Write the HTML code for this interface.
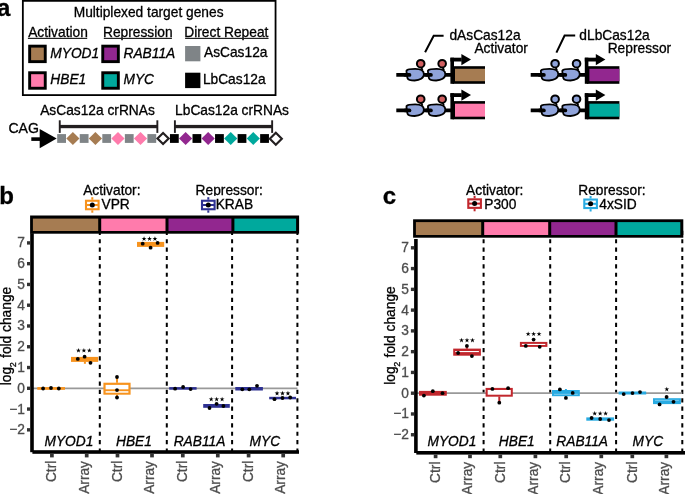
<!DOCTYPE html>
<html><head><meta charset="utf-8"><style>
html,body{margin:0;padding:0;background:#fff;}
body{width:685px;height:494px;overflow:hidden;}
svg{display:block;will-change:transform;font-family:"Liberation Sans", sans-serif;}
</style></head><body>
<svg width="685" height="494" viewBox="0 0 685 494">
<rect width="685" height="494" fill="#fff"/>
<text x="-2.98" y="15.9" font-size="24" font-weight="bold" fill="#000" stroke="#000" stroke-width="0.3">a</text>
<rect x="22.85" y="0.85" width="252.7" height="94.25" fill="none" stroke="#000" stroke-width="1.8"/>
<text x="73.7" y="16.9" font-size="13.75" fill="#000" stroke="#000" stroke-width="0.3">Multiplexed target genes</text>
<text x="28.2" y="36.7" font-size="13.75" fill="#000" stroke="#000" stroke-width="0.3">Activation</text>
<rect x="27.9" y="37.8" width="59.31" height="1.2" fill="#222"/>
<text x="103" y="36.7" font-size="13.75" fill="#000" stroke="#000" stroke-width="0.3">Repression</text>
<rect x="103.8" y="37.8" width="68.11" height="1.2" fill="#222"/>
<text x="184.3" y="36.7" font-size="13.75" fill="#000" stroke="#000" stroke-width="0.3">Direct Repeat</text>
<rect x="185.1" y="37.8" width="83.44" height="1.2" fill="#222"/>
<rect x="29.65" y="46.15" width="15.6" height="15.5" fill="#A67C52" stroke="#000" stroke-width="2.9"/>
<rect x="29.65" y="72.75" width="15.6" height="15.5" fill="#FF7BAC" stroke="#000" stroke-width="2.9"/>
<rect x="102.75" y="46.15" width="15.6" height="15.5" fill="#92278F" stroke="#000" stroke-width="2.9"/>
<rect x="102.75" y="72.75" width="15.6" height="15.5" fill="#00A99D" stroke="#000" stroke-width="2.9"/>
<rect x="185.1" y="46" width="15.3" height="15.3" fill="#7F8487"/>
<rect x="185.1" y="72.7" width="15.3" height="15.4" fill="#000"/>
<text x="50.29" y="57.6" font-size="13.75" font-style="italic" fill="#000" stroke="#000" stroke-width="0.3">MYOD1</text>
<text x="50.29" y="83.8" font-size="13.75" font-style="italic" fill="#000" stroke="#000" stroke-width="0.3">HBE1</text>
<text x="123.49" y="57.6" font-size="13.75" font-style="italic" fill="#000" stroke="#000" stroke-width="0.3">RAB11A</text>
<text x="123.49" y="83.8" font-size="13.75" font-style="italic" fill="#000" stroke="#000" stroke-width="0.3">MYC</text>
<text x="204" y="57.4" font-size="13.75" fill="#000" stroke="#000" stroke-width="0.3">AsCas12a</text>
<text x="202.9" y="83.8" font-size="13.75" fill="#000" stroke="#000" stroke-width="0.3">LbCas12a</text>
<text x="40.2" y="114.8" font-size="13.75" fill="#000" stroke="#000" stroke-width="0.3">AsCas12a crRNAs</text>
<text x="175.1" y="114.8" font-size="13.75" fill="#000" stroke="#000" stroke-width="0.3">LbCas12a crRNAs</text>
<text x="8.39" y="133.1" font-size="14.1" fill="#000" stroke="#000" stroke-width="0.3">CAG</text>
<rect x="31.3" y="137.3" width="10.7" height="3.6" fill="#000"/>
<path d="M39.7,128.9 L56.7,138.6 L39.7,148.3 Z" fill="#000"/>
<rect x="58.8" y="120.3" width="1.9" height="12.6" fill="#231F20"/>
<rect x="156.4" y="120.3" width="1.9" height="12.6" fill="#231F20"/>
<rect x="59.75" y="124.9" width="97.6" height="3.3" fill="#231F20"/>
<rect x="173.95" y="120.3" width="1.9" height="12.6" fill="#231F20"/>
<rect x="271.2" y="120.3" width="1.9" height="12.6" fill="#231F20"/>
<rect x="174.9" y="124.9" width="97.25" height="3.3" fill="#231F20"/>
<rect x="57.2" y="134.1" width="8.8" height="8.8" fill="#7F8487"/>
<path d="M72.87,131.9 L79.47,138.5 L72.87,145.1 L66.27,138.5 Z" fill="#A67C52"/>
<rect x="79.75" y="134.1" width="8.8" height="8.8" fill="#7F8487"/>
<path d="M95.42,131.9 L102.02,138.5 L95.42,145.1 L88.82,138.5 Z" fill="#A67C52"/>
<rect x="102.3" y="134.1" width="8.8" height="8.8" fill="#7F8487"/>
<path d="M117.97,131.9 L124.57,138.5 L117.97,145.1 L111.37,138.5 Z" fill="#FF7BAC"/>
<rect x="124.85" y="134.1" width="8.8" height="8.8" fill="#7F8487"/>
<path d="M140.52,131.9 L147.12,138.5 L140.52,145.1 L133.92,138.5 Z" fill="#FF7BAC"/>
<rect x="147.4" y="134.1" width="8.8" height="8.8" fill="#7F8487"/>
<path d="M163.07,132.9 L168.67,138.5 L163.07,144.1 L157.47,138.5 Z" fill="#fff" stroke="#231F20" stroke-width="2.15"/>
<rect x="169.95" y="134.1" width="8.8" height="8.8" fill="#000"/>
<path d="M185.62,131.9 L192.22,138.5 L185.62,145.1 L179.02,138.5 Z" fill="#92278F"/>
<rect x="192.5" y="134.1" width="8.8" height="8.8" fill="#000"/>
<path d="M208.17,131.9 L214.77,138.5 L208.17,145.1 L201.57,138.5 Z" fill="#92278F"/>
<rect x="215.05" y="134.1" width="8.8" height="8.8" fill="#000"/>
<path d="M230.72,131.9 L237.32,138.5 L230.72,145.1 L224.12,138.5 Z" fill="#00A99D"/>
<rect x="237.6" y="134.1" width="8.8" height="8.8" fill="#000"/>
<path d="M253.27,131.9 L259.87,138.5 L253.27,145.1 L246.67,138.5 Z" fill="#00A99D"/>
<rect x="260.15" y="134.1" width="8.8" height="8.8" fill="#000"/>
<path d="M275.82,132.8 L281.82,138.8 L275.82,144.8 L269.82,138.8 Z" fill="#fff" stroke="#231F20" stroke-width="2.15"/>
<line x1="396.3" y1="74.9" x2="452.3" y2="74.9" stroke="#000" stroke-width="3.8"/>
<path d="M406.5,70.6 C407.7,69.2 411.2,68.95 415.2,68.95 C420.7,68.95 423.9,70.5 423.9,74.3 C423.9,78.2 419.7,80.5 414.7,80.5 C410.7,80.5 408.2,79.8 407.6,78.3 C407.1,77.2 407.2,76.4 407.3,75.9 C407,73.9 406.2,71.9 406.5,70.6 Z" fill="#8FA3DA" stroke="#000" stroke-width="1.8"/>
<line x1="405.2" y1="74.9" x2="409.5" y2="74.9" stroke="#000" stroke-width="3.7" stroke-linecap="round"/>
<line x1="421.3" y1="67.3" x2="422.5" y2="70.1" stroke="#000" stroke-width="1.8"/>
<circle cx="420.7" cy="63.7" r="3.8" fill="#D05F60" stroke="#000" stroke-width="2"/>
<path d="M427.95,70.6 C429.15,69.2 432.65,68.95 436.65,68.95 C442.15,68.95 445.35,70.5 445.35,74.3 C445.35,78.2 441.15,80.5 436.15,80.5 C432.15,80.5 429.65,79.8 429.05,78.3 C428.55,77.2 428.65,76.4 428.75,75.9 C428.45,73.9 427.65,71.9 427.95,70.6 Z" fill="#8FA3DA" stroke="#000" stroke-width="1.8"/>
<line x1="426.65" y1="74.9" x2="430.95" y2="74.9" stroke="#000" stroke-width="3.7" stroke-linecap="round"/>
<line x1="442.75" y1="67.3" x2="443.95" y2="70.1" stroke="#000" stroke-width="1.8"/>
<circle cx="442.15" cy="63.7" r="3.8" fill="#D05F60" stroke="#000" stroke-width="2"/>
<rect x="452.5" y="66.2" width="32.5" height="17.6" fill="#000"/>
<rect x="455" y="68.8" width="30" height="12.4" fill="#A67C52"/>
<rect x="450.4" y="57.7" width="3.6" height="26.1" fill="#000"/>
<rect x="450.4" y="57.7" width="11.3" height="3.8" fill="#000"/>
<path d="M461.4,54 L471,59.6 L461.4,65.2 Z" fill="#000"/>
<line x1="396.3" y1="110.4" x2="452.3" y2="110.4" stroke="#000" stroke-width="3.8"/>
<path d="M406.5,106.1 C407.7,104.7 411.2,104.45 415.2,104.45 C420.7,104.45 423.9,106 423.9,109.8 C423.9,113.7 419.7,116 414.7,116 C410.7,116 408.2,115.3 407.6,113.8 C407.1,112.7 407.2,111.9 407.3,111.4 C407,109.4 406.2,107.4 406.5,106.1 Z" fill="#8FA3DA" stroke="#000" stroke-width="1.8"/>
<line x1="405.2" y1="110.4" x2="409.5" y2="110.4" stroke="#000" stroke-width="3.7" stroke-linecap="round"/>
<line x1="421.3" y1="102.8" x2="422.5" y2="105.6" stroke="#000" stroke-width="1.8"/>
<circle cx="420.7" cy="99.2" r="3.8" fill="#D05F60" stroke="#000" stroke-width="2"/>
<path d="M427.95,106.1 C429.15,104.7 432.65,104.45 436.65,104.45 C442.15,104.45 445.35,106 445.35,109.8 C445.35,113.7 441.15,116 436.15,116 C432.15,116 429.65,115.3 429.05,113.8 C428.55,112.7 428.65,111.9 428.75,111.4 C428.45,109.4 427.65,107.4 427.95,106.1 Z" fill="#8FA3DA" stroke="#000" stroke-width="1.8"/>
<line x1="426.65" y1="110.4" x2="430.95" y2="110.4" stroke="#000" stroke-width="3.7" stroke-linecap="round"/>
<line x1="442.75" y1="102.8" x2="443.95" y2="105.6" stroke="#000" stroke-width="1.8"/>
<circle cx="442.15" cy="99.2" r="3.8" fill="#D05F60" stroke="#000" stroke-width="2"/>
<rect x="452.5" y="101.1" width="32.5" height="18.2" fill="#000"/>
<rect x="455" y="103.7" width="30" height="13" fill="#FF7BAC"/>
<rect x="450.4" y="93.2" width="3.6" height="26.1" fill="#000"/>
<rect x="450.4" y="93.2" width="11.3" height="3.8" fill="#000"/>
<path d="M461.4,89.5 L471,95.1 L461.4,100.7 Z" fill="#000"/>
<line x1="530.7" y1="74.9" x2="586.7" y2="74.9" stroke="#000" stroke-width="3.8"/>
<path d="M540.9,70.6 C542.1,69.2 545.6,68.95 549.6,68.95 C555.1,68.95 558.3,70.5 558.3,74.3 C558.3,78.2 554.1,80.5 549.1,80.5 C545.1,80.5 542.6,79.8 542,78.3 C541.5,77.2 541.6,76.4 541.7,75.9 C541.4,73.9 540.6,71.9 540.9,70.6 Z" fill="#8FA3DA" stroke="#000" stroke-width="1.8"/>
<line x1="539.6" y1="74.9" x2="543.9" y2="74.9" stroke="#000" stroke-width="3.7" stroke-linecap="round"/>
<line x1="555.7" y1="67.3" x2="556.9" y2="70.1" stroke="#000" stroke-width="1.8"/>
<circle cx="555.1" cy="63.7" r="3.8" fill="#8FA3DA" stroke="#000" stroke-width="2"/>
<path d="M562.35,70.6 C563.55,69.2 567.05,68.95 571.05,68.95 C576.55,68.95 579.75,70.5 579.75,74.3 C579.75,78.2 575.55,80.5 570.55,80.5 C566.55,80.5 564.05,79.8 563.45,78.3 C562.95,77.2 563.05,76.4 563.15,75.9 C562.85,73.9 562.05,71.9 562.35,70.6 Z" fill="#8FA3DA" stroke="#000" stroke-width="1.8"/>
<line x1="561.05" y1="74.9" x2="565.35" y2="74.9" stroke="#000" stroke-width="3.7" stroke-linecap="round"/>
<line x1="577.15" y1="67.3" x2="578.35" y2="70.1" stroke="#000" stroke-width="1.8"/>
<circle cx="576.55" cy="63.7" r="3.8" fill="#8FA3DA" stroke="#000" stroke-width="2"/>
<rect x="586.9" y="66.2" width="32.5" height="17.6" fill="#000"/>
<rect x="589.4" y="68.8" width="30" height="12.4" fill="#92278F"/>
<rect x="584.8" y="57.7" width="3.6" height="26.1" fill="#000"/>
<rect x="584.8" y="57.7" width="11.3" height="3.8" fill="#000"/>
<path d="M595.8,54 L605.4,59.6 L595.8,65.2 Z" fill="#000"/>
<line x1="530.7" y1="110.4" x2="586.7" y2="110.4" stroke="#000" stroke-width="3.8"/>
<path d="M540.9,106.1 C542.1,104.7 545.6,104.45 549.6,104.45 C555.1,104.45 558.3,106 558.3,109.8 C558.3,113.7 554.1,116 549.1,116 C545.1,116 542.6,115.3 542,113.8 C541.5,112.7 541.6,111.9 541.7,111.4 C541.4,109.4 540.6,107.4 540.9,106.1 Z" fill="#8FA3DA" stroke="#000" stroke-width="1.8"/>
<line x1="539.6" y1="110.4" x2="543.9" y2="110.4" stroke="#000" stroke-width="3.7" stroke-linecap="round"/>
<line x1="555.7" y1="102.8" x2="556.9" y2="105.6" stroke="#000" stroke-width="1.8"/>
<circle cx="555.1" cy="99.2" r="3.8" fill="#8FA3DA" stroke="#000" stroke-width="2"/>
<path d="M562.35,106.1 C563.55,104.7 567.05,104.45 571.05,104.45 C576.55,104.45 579.75,106 579.75,109.8 C579.75,113.7 575.55,116 570.55,116 C566.55,116 564.05,115.3 563.45,113.8 C562.95,112.7 563.05,111.9 563.15,111.4 C562.85,109.4 562.05,107.4 562.35,106.1 Z" fill="#8FA3DA" stroke="#000" stroke-width="1.8"/>
<line x1="561.05" y1="110.4" x2="565.35" y2="110.4" stroke="#000" stroke-width="3.7" stroke-linecap="round"/>
<line x1="577.15" y1="102.8" x2="578.35" y2="105.6" stroke="#000" stroke-width="1.8"/>
<circle cx="576.55" cy="99.2" r="3.8" fill="#8FA3DA" stroke="#000" stroke-width="2"/>
<rect x="586.9" y="101.1" width="32.5" height="18.2" fill="#000"/>
<rect x="589.4" y="103.7" width="30" height="13" fill="#00A99D"/>
<rect x="584.8" y="93.2" width="3.6" height="26.1" fill="#000"/>
<rect x="584.8" y="93.2" width="11.3" height="3.8" fill="#000"/>
<path d="M595.8,89.5 L605.4,95.1 L595.8,100.7 Z" fill="#000"/>
<path d="M425.1,52.2 L433.7,35.8 L443.6,35.8" fill="none" stroke="#000" stroke-width="2"/>
<path d="M556.4,52.6 L564.6,35.6 L575.2,35.6" fill="none" stroke="#000" stroke-width="2"/>
<text x="449.45" y="39.5" font-size="13.75" fill="#000" stroke="#000" stroke-width="0.3">dAsCas12a</text>
<text x="474.4" y="52.8" font-size="13.75" fill="#000" stroke="#000" stroke-width="0.3">Activator</text>
<text x="579.35" y="39.5" font-size="13.75" fill="#000" stroke="#000" stroke-width="0.3">dLbCas12a</text>
<text x="607.7" y="52.8" font-size="13.75" fill="#000" stroke="#000" stroke-width="0.3">Repressor</text>
<text x="-0.66" y="203.5" font-size="24" font-weight="bold" fill="#000" stroke="#000" stroke-width="0.3">b</text>
<text x="382.84" y="203.8" font-size="24" font-weight="bold" fill="#000" stroke="#000" stroke-width="0.3">c</text>
<line x1="99.8" y1="452.6" x2="99.8" y2="230.6" stroke="#000" stroke-width="2" stroke-dasharray="4.2 4.17"/>
<line x1="166.8" y1="452.6" x2="166.8" y2="230.6" stroke="#000" stroke-width="2" stroke-dasharray="4.2 4.17"/>
<line x1="232.1" y1="452.6" x2="232.1" y2="230.6" stroke="#000" stroke-width="2" stroke-dasharray="4.2 4.17"/>
<line x1="297.4" y1="452.6" x2="297.4" y2="230.6" stroke="#000" stroke-width="2" stroke-dasharray="4.2 4.17"/>
<line x1="32" y1="388.3" x2="297.4" y2="388.3" stroke="#999999" stroke-width="1.7"/>
<rect x="37.3" y="387.1" width="27.7" height="2.7" fill="#F7931E"/>
<circle cx="43.1" cy="388.5" r="1.9" fill="#000"/>
<circle cx="51" cy="388" r="1.9" fill="#000"/>
<circle cx="58.8" cy="388.5" r="1.9" fill="#000"/>
<line x1="84.9" y1="361.5" x2="84.9" y2="363.8" stroke="#F7931E" stroke-width="2"/>
<rect x="71" y="356.9" width="27.2" height="5" fill="#F7931E"/>
<circle cx="77.8" cy="358.9" r="1.9" fill="#000"/>
<circle cx="84.6" cy="356.7" r="1.9" fill="#000"/>
<circle cx="90.5" cy="362.8" r="1.9" fill="#000"/>
<line x1="117" y1="377" x2="117" y2="382.8" stroke="#F7931E" stroke-width="2"/>
<line x1="117" y1="394.6" x2="117" y2="397.5" stroke="#F7931E" stroke-width="2"/>
<rect x="103.4" y="382.7" width="27.2" height="12" fill="#F7931E"/>
<rect x="105.6" y="384.9" width="22.8" height="4.4" fill="#fff"/>
<rect x="105.6" y="391.2" width="22.8" height="1.5" fill="#fff"/>
<circle cx="117" cy="377" r="1.9" fill="#000"/>
<circle cx="117" cy="390.1" r="1.9" fill="#000"/>
<circle cx="117" cy="397.5" r="1.9" fill="#000"/>
<rect x="137" y="241.9" width="27.2" height="5" fill="#F7931E"/>
<circle cx="142.7" cy="243.7" r="1.9" fill="#000"/>
<circle cx="150.6" cy="247.7" r="1.9" fill="#000"/>
<circle cx="157.6" cy="242.9" r="1.9" fill="#000"/>
<rect x="169.2" y="387.1" width="27.4" height="2.6" fill="#2E3192"/>
<circle cx="175.1" cy="388.7" r="1.9" fill="#000"/>
<circle cx="183.1" cy="387" r="1.9" fill="#000"/>
<circle cx="190.6" cy="389.1" r="1.9" fill="#000"/>
<rect x="203.2" y="404" width="26.6" height="3.8" fill="#2E3192"/>
<circle cx="209.5" cy="408" r="1.9" fill="#000"/>
<circle cx="216.6" cy="403.8" r="1.9" fill="#000"/>
<circle cx="223.4" cy="406" r="1.9" fill="#000"/>
<rect x="235.3" y="387" width="27.6" height="3.5" fill="#2E3192"/>
<circle cx="242.3" cy="389.3" r="1.9" fill="#000"/>
<circle cx="249.3" cy="389.3" r="1.9" fill="#000"/>
<circle cx="257" cy="385.8" r="1.9" fill="#000"/>
<rect x="269.2" y="396.8" width="26.8" height="2.5" fill="#2E3192"/>
<circle cx="274.5" cy="399.2" r="1.9" fill="#000"/>
<circle cx="282.5" cy="398" r="1.9" fill="#000"/>
<circle cx="290.2" cy="397.5" r="1.9" fill="#000"/>
<polygon points="78.45,347.9 79.04,349.69 80.92,349.7 79.4,350.81 79.98,352.6 78.45,351.5 76.92,352.6 77.5,350.81 75.98,349.7 77.86,349.69" fill="#000"/>
<polygon points="83.9,347.9 84.49,349.69 86.37,349.7 84.85,350.81 85.43,352.6 83.9,351.5 82.37,352.6 82.95,350.81 81.43,349.7 83.31,349.69" fill="#000"/>
<polygon points="89.35,347.9 89.94,349.69 91.82,349.7 90.3,350.81 90.88,352.6 89.35,351.5 87.82,352.6 88.4,350.81 86.88,349.7 88.76,349.69" fill="#000"/>
<polygon points="144.05,236.2 144.64,237.99 146.52,238 145,239.11 145.58,240.9 144.05,239.8 142.52,240.9 143.1,239.11 141.58,238 143.46,237.99" fill="#000"/>
<polygon points="149.5,236.2 150.09,237.99 151.97,238 150.45,239.11 151.03,240.9 149.5,239.8 147.97,240.9 148.55,239.11 147.03,238 148.91,237.99" fill="#000"/>
<polygon points="154.95,236.2 155.54,237.99 157.42,238 155.9,239.11 156.48,240.9 154.95,239.8 153.42,240.9 154,239.11 152.48,238 154.36,237.99" fill="#000"/>
<polygon points="211.2,396.7 211.79,398.49 213.67,398.5 212.15,399.61 212.73,401.4 211.2,400.3 209.67,401.4 210.25,399.61 208.73,398.5 210.61,398.49" fill="#000"/>
<polygon points="216.65,396.7 217.24,398.49 219.12,398.5 217.6,399.61 218.18,401.4 216.65,400.3 215.12,401.4 215.7,399.61 214.18,398.5 216.06,398.49" fill="#000"/>
<polygon points="222.1,396.7 222.69,398.49 224.57,398.5 223.05,399.61 223.63,401.4 222.1,400.3 220.57,401.4 221.15,399.61 219.63,398.5 221.51,398.49" fill="#000"/>
<polygon points="277.05,390.8 277.64,392.59 279.52,392.6 278,393.71 278.58,395.5 277.05,394.4 275.52,395.5 276.1,393.71 274.58,392.6 276.46,392.59" fill="#000"/>
<polygon points="282.5,390.8 283.09,392.59 284.97,392.6 283.45,393.71 284.03,395.5 282.5,394.4 280.97,395.5 281.55,393.71 280.03,392.6 281.91,392.59" fill="#000"/>
<polygon points="287.95,390.8 288.54,392.59 290.42,392.6 288.9,393.71 289.48,395.5 287.95,394.4 286.42,395.5 287,393.71 285.48,392.6 287.36,392.59" fill="#000"/>
<rect x="30.1" y="215.5" width="269" height="18.2" fill="#000"/>
<rect x="32.9" y="218.6" width="65.3" height="12.4" fill="#A67C52"/>
<rect x="101.2" y="218.6" width="64.3" height="12.4" fill="#FF7BAC"/>
<rect x="168.5" y="218.6" width="62.9" height="12.4" fill="#92278F"/>
<rect x="234.4" y="218.6" width="61.7" height="12.4" fill="#00A99D"/>
<rect x="30.2" y="233.2" width="3.6" height="219" fill="#000"/>
<rect x="32.4" y="450.2" width="266.6" height="3.6" fill="#000"/>
<rect x="27" y="428.14" width="3.2" height="3.4" fill="#333333"/>
<text x="25" y="434.34" font-size="13.75" fill="#4D4D4D" stroke="#4D4D4D" stroke-width="0.3" text-anchor="end">−2</text>
<rect x="27" y="407.37" width="3.2" height="3.4" fill="#333333"/>
<text x="25" y="413.57" font-size="13.75" fill="#4D4D4D" stroke="#4D4D4D" stroke-width="0.3" text-anchor="end">−1</text>
<rect x="27" y="386.6" width="3.2" height="3.4" fill="#333333"/>
<text x="25" y="392.8" font-size="13.75" fill="#4D4D4D" stroke="#4D4D4D" stroke-width="0.3" text-anchor="end">0</text>
<rect x="27" y="365.83" width="3.2" height="3.4" fill="#333333"/>
<text x="25" y="372.03" font-size="13.75" fill="#4D4D4D" stroke="#4D4D4D" stroke-width="0.3" text-anchor="end">1</text>
<rect x="27" y="345.06" width="3.2" height="3.4" fill="#333333"/>
<text x="25" y="351.26" font-size="13.75" fill="#4D4D4D" stroke="#4D4D4D" stroke-width="0.3" text-anchor="end">2</text>
<rect x="27" y="324.29" width="3.2" height="3.4" fill="#333333"/>
<text x="25" y="330.49" font-size="13.75" fill="#4D4D4D" stroke="#4D4D4D" stroke-width="0.3" text-anchor="end">3</text>
<rect x="27" y="303.52" width="3.2" height="3.4" fill="#333333"/>
<text x="25" y="309.72" font-size="13.75" fill="#4D4D4D" stroke="#4D4D4D" stroke-width="0.3" text-anchor="end">4</text>
<rect x="27" y="282.75" width="3.2" height="3.4" fill="#333333"/>
<text x="25" y="288.95" font-size="13.75" fill="#4D4D4D" stroke="#4D4D4D" stroke-width="0.3" text-anchor="end">5</text>
<rect x="27" y="261.98" width="3.2" height="3.4" fill="#333333"/>
<text x="25" y="268.18" font-size="13.75" fill="#4D4D4D" stroke="#4D4D4D" stroke-width="0.3" text-anchor="end">6</text>
<rect x="27" y="241.21" width="3.2" height="3.4" fill="#333333"/>
<text x="25" y="247.41" font-size="13.75" fill="#4D4D4D" stroke="#4D4D4D" stroke-width="0.3" text-anchor="end">7</text>
<rect x="50.05" y="453.8" width="3.7" height="3.6" fill="#333333"/>
<text transform="translate(56.12,482.09) rotate(-90)" font-size="13.75" fill="#4D4D4D" stroke="#4D4D4D" stroke-width="0.3">Ctrl</text>
<rect x="84.85" y="453.8" width="3.7" height="3.6" fill="#333333"/>
<text transform="translate(88.8,493.86) rotate(-90)" font-size="13.75" fill="#4D4D4D" stroke="#4D4D4D" stroke-width="0.3">Array</text>
<rect x="115.65" y="453.8" width="3.7" height="3.6" fill="#333333"/>
<text transform="translate(121.72,482.09) rotate(-90)" font-size="13.75" fill="#4D4D4D" stroke="#4D4D4D" stroke-width="0.3">Ctrl</text>
<rect x="150.15" y="453.8" width="3.7" height="3.6" fill="#333333"/>
<text transform="translate(154.1,493.86) rotate(-90)" font-size="13.75" fill="#4D4D4D" stroke="#4D4D4D" stroke-width="0.3">Array</text>
<rect x="180.95" y="453.8" width="3.7" height="3.6" fill="#333333"/>
<text transform="translate(187.02,482.09) rotate(-90)" font-size="13.75" fill="#4D4D4D" stroke="#4D4D4D" stroke-width="0.3">Ctrl</text>
<rect x="215.95" y="453.8" width="3.7" height="3.6" fill="#333333"/>
<text transform="translate(219.9,493.86) rotate(-90)" font-size="13.75" fill="#4D4D4D" stroke="#4D4D4D" stroke-width="0.3">Array</text>
<rect x="246.75" y="453.8" width="3.7" height="3.6" fill="#333333"/>
<text transform="translate(252.82,482.09) rotate(-90)" font-size="13.75" fill="#4D4D4D" stroke="#4D4D4D" stroke-width="0.3">Ctrl</text>
<rect x="281.35" y="453.8" width="3.7" height="3.6" fill="#333333"/>
<text transform="translate(285.3,493.86) rotate(-90)" font-size="13.75" fill="#4D4D4D" stroke="#4D4D4D" stroke-width="0.3">Array</text>
<text x="44.49" y="445.7" font-size="13.75" font-style="italic" fill="#000" stroke="#000" stroke-width="0.3">MYOD1</text>
<text x="115.99" y="445.7" font-size="13.75" font-style="italic" fill="#000" stroke="#000" stroke-width="0.3">HBE1</text>
<text x="173.69" y="445.7" font-size="13.75" font-style="italic" fill="#000" stroke="#000" stroke-width="0.3">RAB11A</text>
<text x="249.59" y="445.7" font-size="13.75" font-style="italic" fill="#000" stroke="#000" stroke-width="0.3">MYC</text>
<text transform="translate(10.9,385.19) rotate(-90)" font-size="13.75" fill="#000" stroke="#000" stroke-width="0.3">log<tspan font-size="9" dx="-0.5" dy="4.9">2</tspan><tspan dx="0.6" dy="-4.9"> fold change</tspan></text>
<text x="83.2" y="195" font-size="13.75" fill="#000" stroke="#000" stroke-width="0.3">Activator:</text>
<rect x="84.3" y="195.9" width="16" height="17.1" fill="#fff"/>
<rect x="86" y="200.75" width="12.6" height="8.5" fill="#fff" stroke="#F7931E" stroke-width="2.1"/>
<line x1="92.3" y1="197.2" x2="92.3" y2="199.7" stroke="#F7931E" stroke-width="2"/>
<line x1="92.3" y1="210.3" x2="92.3" y2="212.7" stroke="#F7931E" stroke-width="2"/>
<line x1="86" y1="205" x2="98.6" y2="205" stroke="#F7931E" stroke-width="2"/>
<circle cx="92.3" cy="205" r="2.5" fill="#000"/>
<text x="101.53" y="209.3" font-size="13.75" fill="#000" stroke="#000" stroke-width="0.3">VPR</text>
<text x="195.6" y="194.9" font-size="13.75" fill="#000" stroke="#000" stroke-width="0.3">Repressor:</text>
<rect x="200.3" y="195.9" width="16" height="17.1" fill="#fff"/>
<rect x="202" y="200.75" width="12.6" height="8.5" fill="#fff" stroke="#2E3192" stroke-width="2.1"/>
<line x1="208.3" y1="197.2" x2="208.3" y2="199.7" stroke="#2E3192" stroke-width="2"/>
<line x1="208.3" y1="210.3" x2="208.3" y2="212.7" stroke="#2E3192" stroke-width="2"/>
<line x1="202" y1="205" x2="214.6" y2="205" stroke="#2E3192" stroke-width="2"/>
<circle cx="208.3" cy="205" r="2.5" fill="#000"/>
<text x="215.7" y="209.2" font-size="13.75" fill="#000" stroke="#000" stroke-width="0.3">KRAB</text>
<line x1="483.6" y1="452.6" x2="483.6" y2="229.1" stroke="#000" stroke-width="2" stroke-dasharray="4.2 4.17"/>
<line x1="550.2" y1="452.6" x2="550.2" y2="229.1" stroke="#000" stroke-width="2" stroke-dasharray="4.2 4.17"/>
<line x1="616.1" y1="452.6" x2="616.1" y2="229.1" stroke="#000" stroke-width="2" stroke-dasharray="4.2 4.17"/>
<line x1="682.3" y1="452.6" x2="682.3" y2="229.1" stroke="#000" stroke-width="2" stroke-dasharray="4.2 4.17"/>
<line x1="415.9" y1="393.2" x2="682.3" y2="393.2" stroke="#999999" stroke-width="1.7"/>
<rect x="419" y="390.9" width="27.8" height="4.8" fill="#C1272D"/>
<circle cx="423.9" cy="395.6" r="1.9" fill="#000"/>
<circle cx="432.8" cy="391.2" r="1.9" fill="#000"/>
<circle cx="442.5" cy="393.2" r="1.9" fill="#000"/>
<line x1="466.9" y1="345.9" x2="466.9" y2="348.8" stroke="#C1272D" stroke-width="2"/>
<rect x="453.2" y="348.6" width="27.7" height="7.1" fill="#C1272D"/>
<rect x="455.2" y="351" width="23.7" height="1.1" fill="#fff"/>
<circle cx="458.1" cy="353" r="1.9" fill="#000"/>
<circle cx="466.9" cy="345.9" r="1.9" fill="#000"/>
<circle cx="471.9" cy="356.1" r="1.9" fill="#000"/>
<line x1="499.3" y1="396.5" x2="499.3" y2="402.7" stroke="#C1272D" stroke-width="2"/>
<rect x="485.6" y="387.9" width="27.2" height="8.8" fill="#C1272D"/>
<rect x="487.7" y="390" width="23.1" height="4.7" fill="#fff"/>
<circle cx="492.4" cy="388.9" r="1.9" fill="#000"/>
<circle cx="508.1" cy="388.2" r="1.9" fill="#000"/>
<circle cx="499.3" cy="402.7" r="1.9" fill="#000"/>
<rect x="519.9" y="341.9" width="27.5" height="5" fill="#C1272D"/>
<rect x="521.9" y="343.9" width="23.4" height="1.1" fill="#fff"/>
<circle cx="525.8" cy="345.9" r="1.9" fill="#000"/>
<circle cx="533.6" cy="339.6" r="1.9" fill="#000"/>
<circle cx="539.7" cy="346.8" r="1.9" fill="#000"/>
<line x1="565.9" y1="389" x2="565.9" y2="390.2" stroke="#29ABE2" stroke-width="2"/>
<rect x="552" y="390" width="27.8" height="6.2" fill="#29ABE2"/>
<rect x="554" y="393.8" width="23.8" height="1" fill="#7CCBEE"/>
<circle cx="559.9" cy="389.4" r="1.9" fill="#000"/>
<circle cx="565.9" cy="397.9" r="1.9" fill="#000"/>
<circle cx="572.7" cy="392.9" r="1.9" fill="#000"/>
<rect x="586.3" y="417.4" width="27.8" height="3.3" fill="#29ABE2"/>
<circle cx="591.6" cy="418" r="1.9" fill="#000"/>
<circle cx="600.2" cy="419" r="1.9" fill="#000"/>
<circle cx="609" cy="420.1" r="1.9" fill="#000"/>
<rect x="618.6" y="391.5" width="27.6" height="3" fill="#29ABE2"/>
<circle cx="623.7" cy="394.1" r="1.9" fill="#000"/>
<circle cx="632.5" cy="393.1" r="1.9" fill="#000"/>
<circle cx="640" cy="392.1" r="1.9" fill="#000"/>
<rect x="653" y="398.2" width="27.9" height="5.9" fill="#29ABE2"/>
<rect x="655" y="399.8" width="23.9" height="1" fill="#7CCBEE"/>
<circle cx="659.6" cy="404.4" r="1.9" fill="#000"/>
<circle cx="666.6" cy="397" r="1.9" fill="#000"/>
<circle cx="673.5" cy="401.8" r="1.9" fill="#000"/>
<polygon points="461.55,337.7 462.14,339.49 464.02,339.5 462.5,340.61 463.08,342.4 461.55,341.3 460.02,342.4 460.6,340.61 459.08,339.5 460.96,339.49" fill="#000"/>
<polygon points="467,337.7 467.59,339.49 469.47,339.5 467.95,340.61 468.53,342.4 467,341.3 465.47,342.4 466.05,340.61 464.53,339.5 466.41,339.49" fill="#000"/>
<polygon points="472.45,337.7 473.04,339.49 474.92,339.5 473.4,340.61 473.98,342.4 472.45,341.3 470.92,342.4 471.5,340.61 469.98,339.5 471.86,339.49" fill="#000"/>
<polygon points="528.15,331.4 528.74,333.19 530.62,333.2 529.1,334.31 529.68,336.1 528.15,335 526.62,336.1 527.2,334.31 525.68,333.2 527.56,333.19" fill="#000"/>
<polygon points="533.6,331.4 534.19,333.19 536.07,333.2 534.55,334.31 535.13,336.1 533.6,335 532.07,336.1 532.65,334.31 531.13,333.2 533.01,333.19" fill="#000"/>
<polygon points="539.05,331.4 539.64,333.19 541.52,333.2 540,334.31 540.58,336.1 539.05,335 537.52,336.1 538.1,334.31 536.58,333.2 538.46,333.19" fill="#000"/>
<polygon points="594.7,410.9 595.29,412.69 597.17,412.7 595.65,413.81 596.23,415.6 594.7,414.5 593.17,415.6 593.75,413.81 592.23,412.7 594.11,412.69" fill="#000"/>
<polygon points="600.15,410.9 600.74,412.69 602.62,412.7 601.1,413.81 601.68,415.6 600.15,414.5 598.62,415.6 599.2,413.81 597.68,412.7 599.56,412.69" fill="#000"/>
<polygon points="605.6,410.9 606.19,412.69 608.07,412.7 606.55,413.81 607.13,415.6 605.6,414.5 604.07,415.6 604.65,413.81 603.13,412.7 605.01,412.69" fill="#000"/>
<polygon points="666.8,386.7 667.39,388.49 669.27,388.5 667.75,389.61 668.33,391.4 666.8,390.3 665.27,391.4 665.85,389.61 664.33,388.5 666.21,388.49" fill="#000"/>
<rect x="413.1" y="219.3" width="270.2" height="18.4" fill="#000"/>
<rect x="415.9" y="222.1" width="65.3" height="12.9" fill="#A67C52"/>
<rect x="484.2" y="222.1" width="64" height="12.9" fill="#FF7BAC"/>
<rect x="551.2" y="222.1" width="63.3" height="12.9" fill="#92278F"/>
<rect x="617.5" y="222.1" width="62.8" height="12.9" fill="#00A99D"/>
<rect x="414.1" y="239" width="3.6" height="214" fill="#000"/>
<rect x="416.3" y="451" width="268.7" height="3.6" fill="#000"/>
<rect x="410.9" y="433.04" width="3.2" height="3.4" fill="#333333"/>
<text x="408.9" y="439.24" font-size="13.75" fill="#4D4D4D" stroke="#4D4D4D" stroke-width="0.3" text-anchor="end">−2</text>
<rect x="410.9" y="412.27" width="3.2" height="3.4" fill="#333333"/>
<text x="408.9" y="418.47" font-size="13.75" fill="#4D4D4D" stroke="#4D4D4D" stroke-width="0.3" text-anchor="end">−1</text>
<rect x="410.9" y="391.5" width="3.2" height="3.4" fill="#333333"/>
<text x="408.9" y="397.7" font-size="13.75" fill="#4D4D4D" stroke="#4D4D4D" stroke-width="0.3" text-anchor="end">0</text>
<rect x="410.9" y="370.73" width="3.2" height="3.4" fill="#333333"/>
<text x="408.9" y="376.93" font-size="13.75" fill="#4D4D4D" stroke="#4D4D4D" stroke-width="0.3" text-anchor="end">1</text>
<rect x="410.9" y="349.96" width="3.2" height="3.4" fill="#333333"/>
<text x="408.9" y="356.16" font-size="13.75" fill="#4D4D4D" stroke="#4D4D4D" stroke-width="0.3" text-anchor="end">2</text>
<rect x="410.9" y="329.19" width="3.2" height="3.4" fill="#333333"/>
<text x="408.9" y="335.39" font-size="13.75" fill="#4D4D4D" stroke="#4D4D4D" stroke-width="0.3" text-anchor="end">3</text>
<rect x="410.9" y="308.42" width="3.2" height="3.4" fill="#333333"/>
<text x="408.9" y="314.62" font-size="13.75" fill="#4D4D4D" stroke="#4D4D4D" stroke-width="0.3" text-anchor="end">4</text>
<rect x="410.9" y="287.65" width="3.2" height="3.4" fill="#333333"/>
<text x="408.9" y="293.85" font-size="13.75" fill="#4D4D4D" stroke="#4D4D4D" stroke-width="0.3" text-anchor="end">5</text>
<rect x="410.9" y="266.88" width="3.2" height="3.4" fill="#333333"/>
<text x="408.9" y="273.08" font-size="13.75" fill="#4D4D4D" stroke="#4D4D4D" stroke-width="0.3" text-anchor="end">6</text>
<rect x="410.9" y="246.11" width="3.2" height="3.4" fill="#333333"/>
<text x="408.9" y="252.31" font-size="13.75" fill="#4D4D4D" stroke="#4D4D4D" stroke-width="0.3" text-anchor="end">7</text>
<rect x="433.75" y="454.6" width="3.7" height="3.6" fill="#333333"/>
<text transform="translate(439.82,482.89) rotate(-90)" font-size="13.75" fill="#4D4D4D" stroke="#4D4D4D" stroke-width="0.3">Ctrl</text>
<rect x="468.15" y="454.6" width="3.7" height="3.6" fill="#333333"/>
<text transform="translate(472.1,494.66) rotate(-90)" font-size="13.75" fill="#4D4D4D" stroke="#4D4D4D" stroke-width="0.3">Array</text>
<rect x="498.45" y="454.6" width="3.7" height="3.6" fill="#333333"/>
<text transform="translate(504.52,482.89) rotate(-90)" font-size="13.75" fill="#4D4D4D" stroke="#4D4D4D" stroke-width="0.3">Ctrl</text>
<rect x="533.55" y="454.6" width="3.7" height="3.6" fill="#333333"/>
<text transform="translate(537.5,494.66) rotate(-90)" font-size="13.75" fill="#4D4D4D" stroke="#4D4D4D" stroke-width="0.3">Array</text>
<rect x="564.35" y="454.6" width="3.7" height="3.6" fill="#333333"/>
<text transform="translate(570.42,482.89) rotate(-90)" font-size="13.75" fill="#4D4D4D" stroke="#4D4D4D" stroke-width="0.3">Ctrl</text>
<rect x="599.45" y="454.6" width="3.7" height="3.6" fill="#333333"/>
<text transform="translate(603.4,494.66) rotate(-90)" font-size="13.75" fill="#4D4D4D" stroke="#4D4D4D" stroke-width="0.3">Array</text>
<rect x="630.45" y="454.6" width="3.7" height="3.6" fill="#333333"/>
<text transform="translate(636.52,482.89) rotate(-90)" font-size="13.75" fill="#4D4D4D" stroke="#4D4D4D" stroke-width="0.3">Ctrl</text>
<rect x="664.55" y="454.6" width="3.7" height="3.6" fill="#333333"/>
<text transform="translate(668.5,494.66) rotate(-90)" font-size="13.75" fill="#4D4D4D" stroke="#4D4D4D" stroke-width="0.3">Array</text>
<text x="427.49" y="445.7" font-size="13.75" font-style="italic" fill="#000" stroke="#000" stroke-width="0.3">MYOD1</text>
<text x="498.79" y="445.7" font-size="13.75" font-style="italic" fill="#000" stroke="#000" stroke-width="0.3">HBE1</text>
<text x="556.29" y="445.7" font-size="13.75" font-style="italic" fill="#000" stroke="#000" stroke-width="0.3">RAB11A</text>
<text x="632.59" y="445.7" font-size="13.75" font-style="italic" fill="#000" stroke="#000" stroke-width="0.3">MYC</text>
<text transform="translate(395.1,384.69) rotate(-90)" font-size="13.75" fill="#000" stroke="#000" stroke-width="0.3">log<tspan font-size="9" dx="-0.5" dy="4.9">2</tspan><tspan dx="0.6" dy="-4.9"> fold change</tspan></text>
<text x="466.1" y="194.9" font-size="13.75" fill="#000" stroke="#000" stroke-width="0.3">Activator:</text>
<rect x="466.6" y="195.1" width="16" height="16.5" fill="#fff"/>
<rect x="468.3" y="199.35" width="12.6" height="8.5" fill="#fff" stroke="#C1272D" stroke-width="2.1"/>
<line x1="474.6" y1="195.8" x2="474.6" y2="198.3" stroke="#C1272D" stroke-width="2"/>
<line x1="474.6" y1="208.9" x2="474.6" y2="211.3" stroke="#C1272D" stroke-width="2"/>
<line x1="468.3" y1="203.6" x2="480.9" y2="203.6" stroke="#C1272D" stroke-width="2"/>
<circle cx="474.6" cy="203.6" r="2.5" fill="#000"/>
<text x="484.3" y="209.2" font-size="13.75" fill="#000" stroke="#000" stroke-width="0.3">P300</text>
<text x="578.3" y="195" font-size="13.75" fill="#000" stroke="#000" stroke-width="0.3">Repressor:</text>
<rect x="582.6" y="195.1" width="16" height="16.7" fill="#fff"/>
<rect x="584.3" y="199.55" width="12.6" height="8.5" fill="#fff" stroke="#29ABE2" stroke-width="2.1"/>
<line x1="590.6" y1="196" x2="590.6" y2="198.5" stroke="#29ABE2" stroke-width="2"/>
<line x1="590.6" y1="209.1" x2="590.6" y2="211.5" stroke="#29ABE2" stroke-width="2"/>
<line x1="584.3" y1="203.8" x2="596.9" y2="203.8" stroke="#29ABE2" stroke-width="2"/>
<circle cx="590.6" cy="203.8" r="2.5" fill="#000"/>
<text x="599.33" y="209.2" font-size="13.75" fill="#000" stroke="#000" stroke-width="0.3">4xSID</text>
</svg>
</body></html>
